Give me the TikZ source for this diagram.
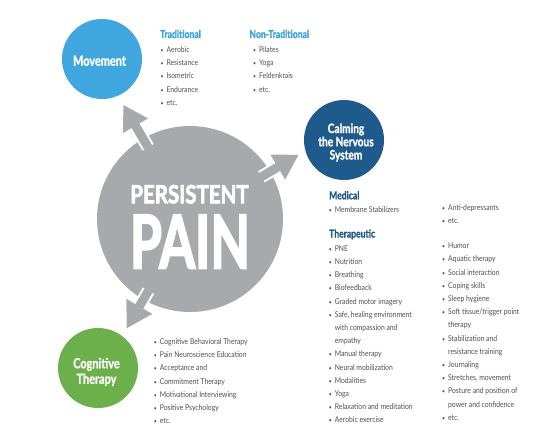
\documentclass[tikz,border=0pt]{standalone}
\usepackage{fontspec}
\usepackage{graphicx}
\setmainfont{Lato}
\newfontfamily\condfont{Lato}[FakeStretch=0.85]
\newfontfamily\circfont{Lato}[FakeStretch=0.78, FakeBold=1.2]
\newfontfamily\painfont{Lato}[FakeBold=3]
\definecolor{paingray}{HTML}{A7A9AC}
\definecolor{mvblue}{HTML}{3FA7DE}
\definecolor{cnsblue}{HTML}{1F5A8C}
\definecolor{cogreen}{HTML}{6BB04A}
\definecolor{headlight}{HTML}{3AA4DB}
\definecolor{itemgray}{HTML}{4F5052}
\newcommand{\lbul}{{\fontsize{6}{6}\selectfont\textbullet}\hspace{3pt}}
\newcommand{\lnobul}{\hphantom{{\fontsize{6}{6}\selectfont\textbullet}\hspace{3pt}}}
\tikzset{
  item/.style={anchor=base west, inner sep=0pt, text=itemgray,
    font=\condfont\fontsize{8}{8}\selectfont},
  headtxt/.style={anchor=base west, inner sep=0pt,
    font=\circfont\bfseries\fontsize{11}{11}\selectfont},
  catcircle/.style={circle, minimum size=80pt, inner sep=0pt},
  catlabel/.style={inner sep=0pt, text=white, align=center,
    font=\circfont\bfseries\fontsize{14}{15.5}\selectfont},
}
\begin{document}
\begin{tikzpicture}[x=1pt, y=-1pt]
\useasboundingbox (0,0) rectangle (534,438);
\fill[white] (0,0) rectangle (534,438);

% central circle
\node[circle, fill=paingray, minimum size=186pt, inner sep=0pt] (pain) at (190,219) {};

% arrows
\begin{scope}[shift={(pain.center)}, rotate=120.3]
  \fill[white] (83,-6.5) rectangle (107,6.5);
  \fill[paingray] (72,-4.5) rectangle (110,4.5);
  \fill[paingray] (108,-14.5) -- (132,0) -- (108,14.5) -- cycle;
\end{scope}
\begin{scope}[shift={(pain.center)}, rotate=30.6]
  \fill[white] (83,-6.5) rectangle (101,6.5);
  \fill[paingray] (72,-4.5) rectangle (104,4.5);
  \fill[paingray] (102,-14.5) -- (126,0) -- (102,14.5) -- cycle;
\end{scope}
\begin{scope}[shift={(pain.center)}, rotate=-120.1]
  \fill[white] (83,-6.5) rectangle (101,6.5);
  \fill[paingray] (72,-4.5) rectangle (104,4.5);
  \fill[paingray] (101,-15) -- (126.3,0) -- (101,15) -- cycle;
\end{scope}

\node[anchor=base, inner sep=0pt, text=white] (persist) at (189.5,203.3)
  {\resizebox{118.3pt}{18.3pt}{\painfont\bfseries PERSISTENT}};
\node[anchor=base, inner sep=0pt, text=white] (paintxt) at (190,268.3)
  {\resizebox{120pt}{53.3pt}{\painfont\bfseries PAIN}};

% category circles
\node[catcircle, fill=mvblue] (mov) at (102,59) {};
\node[catlabel] (movT) at (99.5,60.7) {Movement};
\node[catcircle, fill=cnsblue] (cns) at (344,140) {};
\node[catlabel, font=\circfont\bfseries\fontsize{13}{13.2}\selectfont] (cnsT) at (346,142.5) {Calming\\the Nervous\\System};
\node[catcircle, fill=cogreen] (cog) at (98,368) {};
\node[catlabel] (cogT) at (96.5,372) {Cognitive\\Therapy};

% Movement lists
\node[headtxt, text=headlight] (tradH) at (160,38) {Traditional};
\foreach \t [count=\i from 0] in {Aerobic,Resistance,Isometric,Endurance,etc.}
  \node[item] (tr\i) at (160.4, 52.3+13.33*\i) {\lbul\t};
\node[headtxt, text=headlight] (ntradH) at (249.3,38) {Non-Traditional};
\foreach \t [count=\i from 0] in {Pilates,Yoga,Feldenkrais,etc.}
  \node[item] (nt\i) at (253, 52.3+13.33*\i) {\lbul\t};

% Calming lists
\node[headtxt, text=cnsblue] (medH) at (329,199.3) {Medical};
\node[item] (med0) at (328.7,212) {\lbul Membrane Stabilizers};
\node[item] (med1) at (442,210.3) {\lbul Anti-depressants};
\node[item] (med2) at (442,223.7) {\lbul etc.};
\node[headtxt, text=cnsblue] (therH) at (329,237.5) {Therapeutic};
\foreach \t [count=\i from 0] in {
  {\lbul PNE},{\lbul Nutrition},{\lbul Breathing},{\lbul Biofeedback},
  {\lbul Graded motor imagery},{\lbul Safe, healing environment},
  {\lnobul with compassion and},{\lnobul empathy},{\lbul Manual therapy},
  {\lbul Neural mobilization},{\lbul Modalities},{\lbul Yoga},
  {\lbul Relaxation and meditation},{\lbul Aerobic exercise}}
  \node[item] (thl\i) at (328.7, 251.3+13.2*\i) {\t};
\foreach \t [count=\i from 0] in {
  {\lbul Humor},{\lbul Aquatic therapy},{\lbul Social interaction},
  {\lbul Coping skills},{\lbul Sleep hygiene},{\lbul Soft tissue/trigger point},
  {\lnobul therapy},{\lbul Stabilization and},{\lnobul resistance training},
  {\lbul Journaling},{\lbul Stretches, movement},{\lbul Posture and position of},
  {\lnobul power and confidence},{\lbul etc.}}
  \node[item] (thr\i) at (442, 248.7+13.2*\i) {\t};

% Cognitive list
\foreach \t [count=\i from 0] in {
  {\lbul Cognitive Behavioral Therapy},{\lbul Pain Neuroscience Education},
  {\lbul Acceptance and},{\lbul Commitment Therapy},
  {\lbul Motivational Interviewing},{\lbul Positive Psychology},{\lbul etc.}}
  \node[item] (cg\i) at (153.7, 344.5+13.2*\i) {\t};
\end{tikzpicture}
\end{document}
